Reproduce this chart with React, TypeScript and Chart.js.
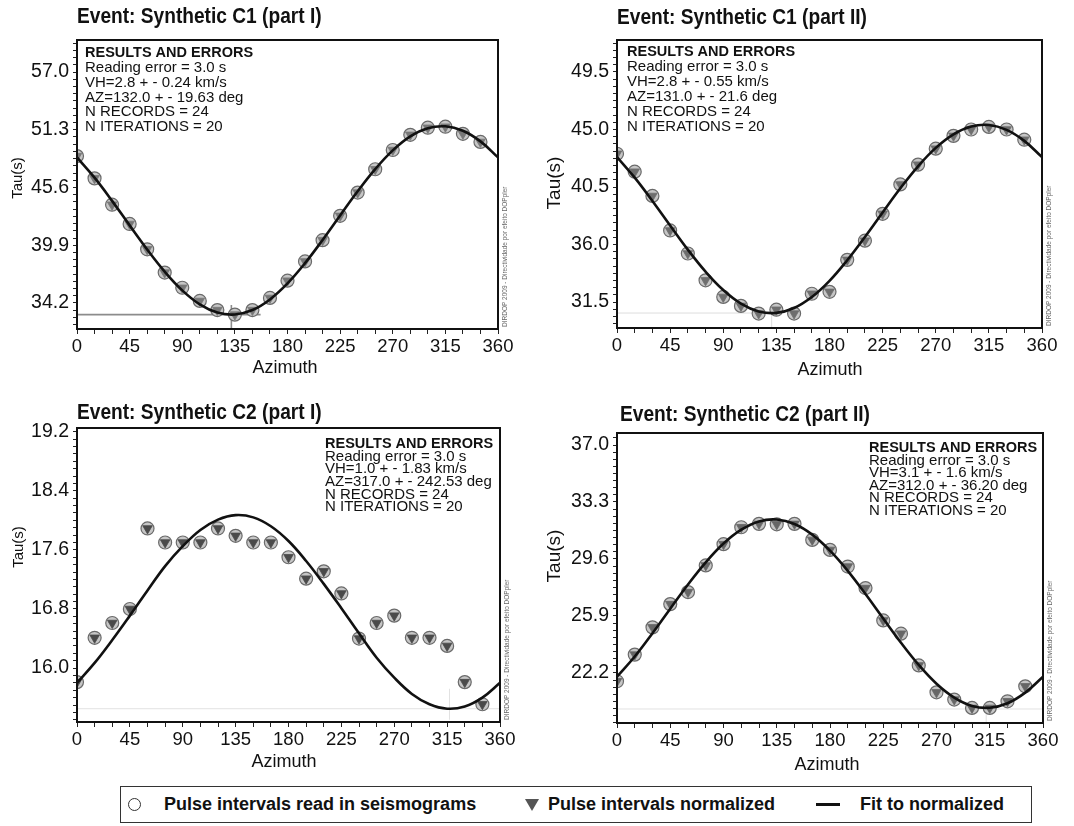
import React, { useEffect, useRef } from "react";
import { Chart, registerables } from "chart.js";

Chart.register(...registerables);

const FONT = "'Liberation Sans', Arial, Helvetica, sans-serif";

// ---------- shared axis data ----------
const AZIMUTHS = [0, 15, 30, 45, 60, 75, 90, 105, 120, 135, 150, 165, 180, 195, 210, 225, 240, 255, 270, 285, 300, 315, 330, 345];
const FIT_AZIMUTHS = [0, 15, 30, 45, 60, 75, 90, 105, 120, 135, 150, 165, 180, 195, 210, 225, 240, 255, 270, 285, 300, 315, 330, 345, 360];
const X_TICK_LABELS = [0, 45, 90, 135, 180, 225, 270, 315, 360];

// ---------- Synthetic C1 (part I) ----------
const C1A_READ = [48.7, 46.5, 43.9, 42.0, 39.5, 37.2, 35.7, 34.4, 33.5, 33.05, 33.5, 34.7, 36.4, 38.3, 40.4, 42.8, 45.1, 47.4, 49.3, 50.8, 51.5, 51.6, 50.9, 50.1];
const C1A_NORM = [48.7, 46.5, 43.9, 42.0, 39.5, 37.2, 35.7, 34.4, 33.5, 33.05, 33.5, 34.7, 36.4, 38.3, 40.4, 42.8, 45.1, 47.4, 49.3, 50.8, 51.5, 51.6, 50.9, 50.1];
const C1A_FIT = [48.57, 46.57, 44.28, 41.86, 39.48, 37.29, 35.44, 34.06, 33.25, 33.06, 33.5, 34.55, 36.13, 38.13, 40.42, 42.84, 45.22, 47.41, 49.26, 50.64, 51.45, 51.64, 51.2, 50.15, 48.57];
const C1A_Y_TICKS = [34.2, 39.9, 45.6, 51.3, 57.0];
const C1A_GUIDE_X = [0, 157];
const C1A_GUIDE_Y = [33.05, 33.05];
const C1A_MARK_X = [132, 132];
const C1A_MARK_Y = [31.6, 34.0];
const C1A_INFO = ["RESULTS AND ERRORS", "Reading error = 3.0 s", "VH=2.8 + - 0.24 km/s", "AZ=132.0 + - 19.63 deg", "N RECORDS = 24", "N ITERATIONS = 20"];

// ---------- Synthetic C1 (part II) ----------
const C1B_READ = [43.1, 41.7, 39.8, 37.1, 35.3, 33.2, 31.9, 31.2, 30.6, 30.9, 30.6, 32.15, 32.3, 34.8, 36.3, 38.4, 40.7, 42.25, 43.5, 44.5, 45.0, 45.2, 45.0, 44.2];
const C1B_NORM = [43.1, 41.7, 39.8, 37.1, 35.3, 33.2, 31.9, 31.2, 30.6, 30.9, 30.6, 32.15, 32.3, 34.8, 36.3, 38.4, 40.7, 42.25, 43.5, 44.5, 45.0, 45.2, 45.0, 44.2];
const C1B_FIT = [42.84, 41.23, 39.41, 37.49, 35.6, 33.88, 32.44, 31.38, 30.77, 30.65, 31.03, 31.89, 33.16, 34.77, 36.59, 38.51, 40.4, 42.12, 43.56, 44.62, 45.23, 45.35, 44.97, 44.11, 42.84];
const C1B_Y_TICKS = [31.5, 36.0, 40.5, 45.0, 49.5];
const C1B_GUIDE_X = [0, 131];
const C1B_GUIDE_Y = [30.64, 30.64];
const C1B_MARK_X = [131, 131];
const C1B_MARK_Y = [29.4, 30.64];
const C1B_INFO = ["RESULTS AND ERRORS", "Reading error = 3.0 s", "VH=2.8 + - 0.55 km/s", "AZ=131.0 + - 21.6 deg", "N RECORDS = 24", "N ITERATIONS = 20"];

// ---------- Synthetic C2 (part I) ----------
const C2A_READ = [15.81, 16.41, 16.61, 16.8, 17.89, 17.7, 17.7, 17.7, 17.89, 17.79, 17.7, 17.7, 17.5, 17.21, 17.31, 17.01, 16.4, 16.61, 16.71, 16.41, 16.41, 16.3, 15.81, 15.51];
const C2A_NORM = [15.81, 16.41, 16.61, 16.8, 17.89, 17.7, 17.7, 17.7, 17.89, 17.79, 17.7, 17.7, 17.5, 17.21, 17.31, 17.01, 16.4, 16.61, 16.71, 16.41, 16.41, 16.3, 15.81, 15.51];
const C2A_FIT = [15.8, 16.07, 16.38, 16.71, 17.05, 17.38, 17.65, 17.87, 18.01, 18.07, 18.04, 17.92, 17.72, 17.45, 17.14, 16.81, 16.47, 16.14, 15.87, 15.65, 15.51, 15.45, 15.48, 15.6, 15.8];
const C2A_Y_TICKS = [16.0, 16.8, 17.6, 18.4, 19.2];
const C2A_GUIDE_X = [0, 360];
const C2A_GUIDE_Y = [15.45, 15.45];
const C2A_MARK_X = [317, 317];
const C2A_MARK_Y = [15.3, 15.72];
const C2A_INFO = ["RESULTS AND ERRORS", "Reading error = 3.0 s", "VH=1.0 + - 1.83 km/s", "AZ=317.0 + - 242.53 deg", "N RECORDS = 24", "N ITERATIONS = 20"];

// ---------- Synthetic C2 (part II) ----------
const C2B_READ = [21.66, 23.39, 25.16, 26.67, 27.45, 29.18, 30.56, 31.66, 31.88, 31.85, 31.88, 30.84, 30.19, 29.11, 27.71, 25.61, 24.75, 22.69, 20.94, 20.47, 19.93, 19.93, 20.36, 21.33];
const C2B_NORM = [21.66, 23.39, 25.16, 26.67, 27.45, 29.18, 30.56, 31.66, 31.88, 31.85, 31.88, 30.84, 30.19, 29.11, 27.71, 25.61, 24.75, 22.69, 20.94, 20.47, 19.93, 19.93, 20.36, 21.33];
const C2B_FIT = [21.96, 23.27, 24.78, 26.37, 27.94, 29.38, 30.6, 31.5, 32.04, 32.16, 31.87, 31.18, 30.14, 28.83, 27.32, 25.73, 24.16, 22.72, 21.5, 20.6, 20.06, 19.94, 20.23, 20.92, 21.96];
const C2B_Y_TICKS = [22.2, 25.9, 29.6, 33.3, 37.0];
const C2B_GUIDE_X = [0, 360];
const C2B_GUIDE_Y = [19.86, 19.86];
const C2B_MARK_X = [312, 312];
const C2B_MARK_Y = [18.9, 19.86];
const C2B_INFO = ["RESULTS AND ERRORS", "Reading error = 3.0 s", "VH=3.1 + - 1.6 km/s", "AZ=312.0 + - 36.20 deg", "N RECORDS = 24", "N ITERATIONS = 20"];

const CREDIT = "DIRDOP 2009 - Directividade por efeito DOPpler";

type Panel = {
  title: string;
  box: { left: number; top: number; width: number; height: number };
  area: { l: number; t: number; r: number; b: number };
  yMin: number;
  yMax: number;
  yTicks: number[];
  read: number[];
  norm: number[];
  fit: number[];
  guideX: number[];
  guideY: number[];
  markX: number[];
  markY: number[];
  guideColor: string;
  guideWidth: number;
  triColor: string;
  info: string[];
  infoX: number;
  infoY: number;
  infoDy: number;
  titleX: number;
  titleY: number;
  tau: { x: number; y: number; size: number };
  azimuth: { x: number; y: number };
};

const PANELS: Panel[] = [
  {
    title: "Event: Synthetic C1 (part I)",
    box: { left: 0, top: 0, width: 537, height: 392 },
    area: { l: 77, t: 40, r: 498, b: 329 },
    yMin: 31.63, yMax: 60.16, yTicks: C1A_Y_TICKS,
    read: C1A_READ, norm: C1A_NORM, fit: C1A_FIT,
    guideX: C1A_GUIDE_X, guideY: C1A_GUIDE_Y, markX: C1A_MARK_X, markY: C1A_MARK_Y,
    guideColor: "#8c8c8c", guideWidth: 1.6, triColor: "#777777",
    info: C1A_INFO, infoX: 85, infoY: 53, infoDy: 14.8,
    titleX: 77, titleY: 17,
    tau: { x: 18, y: 178, size: 15 },
    azimuth: { x: 285, y: 368 },
  },
  {
    title: "Event: Synthetic C1 (part II)",
    box: { left: 537, top: 0, width: 537, height: 392 },
    area: { l: 617, t: 40, r: 1042, b: 328 },
    yMin: 29.47, yMax: 52.0, yTicks: C1B_Y_TICKS,
    read: C1B_READ, norm: C1B_NORM, fit: C1B_FIT,
    guideX: C1B_GUIDE_X, guideY: C1B_GUIDE_Y, markX: C1B_MARK_X, markY: C1B_MARK_Y,
    guideColor: "#dddddd", guideWidth: 1, triColor: "#6e6e6e",
    info: C1B_INFO, infoX: 627, infoY: 52, infoDy: 15,
    titleX: 617, titleY: 18,
    tau: { x: 555, y: 183, size: 19 },
    azimuth: { x: 830, y: 370 },
  },
  {
    title: "Event: Synthetic C2 (part I)",
    box: { left: 0, top: 392, width: 537, height: 390 },
    area: { l: 77, t: 428, r: 500, b: 722 },
    yMin: 15.27, yMax: 19.25, yTicks: C2A_Y_TICKS,
    read: C2A_READ, norm: C2A_NORM, fit: C2A_FIT,
    guideX: C2A_GUIDE_X, guideY: C2A_GUIDE_Y, markX: C2A_MARK_X, markY: C2A_MARK_Y,
    guideColor: "#e2e2e2", guideWidth: 1, triColor: "#4a4a4a",
    info: C2A_INFO, infoX: 325, infoY: 444, infoDy: 12.6,
    titleX: 77, titleY: 413,
    tau: { x: 19, y: 547, size: 15 },
    azimuth: { x: 284, y: 762 },
  },
  {
    title: "Event: Synthetic C2 (part II)",
    box: { left: 537, top: 392, width: 537, height: 390 },
    area: { l: 617, t: 433, r: 1043, b: 723 },
    yMin: 18.95, yMax: 37.78, yTicks: C2B_Y_TICKS,
    read: C2B_READ, norm: C2B_NORM, fit: C2B_FIT,
    guideX: C2B_GUIDE_X, guideY: C2B_GUIDE_Y, markX: C2B_MARK_X, markY: C2B_MARK_Y,
    guideColor: "#e2e2e2", guideWidth: 1, triColor: "#666666",
    info: C2B_INFO, infoX: 869, infoY: 448, infoDy: 12.5,
    titleX: 620, titleY: 415,
    tau: { x: 555, y: 556, size: 19 },
    azimuth: { x: 827, y: 765 },
  },
];

const toPoints = (xs: number[], ys: number[]) => xs.map((x, i) => ({ x, y: ys[i] }));

function buildYTicks(majors: number[], min: number, max: number, sub: number) {
  const step = (majors[1] - majors[0]) / sub;
  const out: number[] = [];
  const start = Math.ceil((min - majors[0]) / step - 1e-9);
  const end = Math.floor((max - majors[0]) / step + 1e-9);
  for (let k = start; k <= end; k++) out.push(majors[0] + k * step);
  return { ticks: out, step };
}

function PanelChart({ p }: { p: Panel }) {
  const ref = useRef<HTMLCanvasElement | null>(null);
  useEffect(() => {
    if (!ref.current) return;
    const { box, area } = p;
    const ox = box.left;
    const oy = box.top;
    const { ticks: yTickVals, step } = buildYTicks(p.yTicks, p.yMin, p.yMax, 8);

    const decor = {
      id: "decor" + p.title,
      afterDraw(chart: any) {
        const ctx = chart.ctx as CanvasRenderingContext2D;
        const ca = chart.chartArea;
        ctx.save();
        // plot frame
        ctx.strokeStyle = "#111";
        ctx.lineWidth = 2;
        ctx.strokeRect(ca.left, ca.top, ca.right - ca.left, ca.bottom - ca.top);
        // title
        ctx.fillStyle = "#111";
        ctx.save();
        ctx.translate(p.titleX - ox, p.titleY - oy);
        ctx.scale(0.87, 1);
        ctx.font = `bold 22px ${FONT}`;
        ctx.textAlign = "left";
        ctx.textBaseline = "middle";
        ctx.fillText(p.title, 0, 0);
        ctx.restore();
        // info block
        ctx.textAlign = "left";
        ctx.textBaseline = "middle";
        p.info.forEach((line, i) => {
          ctx.font = i === 0 ? `bold 14.5px ${FONT}` : `15px ${FONT}`;
          ctx.fillText(line, p.infoX - ox, p.infoY - oy + i * p.infoDy);
        });
        // y title
        ctx.save();
        ctx.translate(p.tau.x - ox, p.tau.y - oy);
        ctx.rotate(-Math.PI / 2);
        ctx.font = `${p.tau.size}px ${FONT}`;
        ctx.textAlign = "center";
        ctx.textBaseline = "middle";
        ctx.fillText("Tau(s)", 0, 0);
        ctx.restore();
        // x title
        ctx.font = `18px ${FONT}`;
        ctx.textAlign = "center";
        ctx.textBaseline = "middle";
        ctx.fillText("Azimuth", p.azimuth.x - ox, p.azimuth.y - oy);
        // credit
        ctx.save();
        ctx.translate(ca.right + 7, ca.bottom - 2);
        ctx.rotate(-Math.PI / 2);
        ctx.font = `6.5px ${FONT}`;
        ctx.fillStyle = "#666";
        ctx.textAlign = "left";
        ctx.textBaseline = "middle";
        ctx.fillText(CREDIT, 0, 0);
        ctx.restore();
        ctx.restore();
      },
    };

    const chart = new Chart(ref.current, {
      type: "line",
      data: {
        datasets: [
          {
            label: "Fit to normalized",
            data: toPoints(FIT_AZIMUTHS, p.fit),
            borderColor: "#111",
            borderWidth: 2.6,
            pointRadius: 0,
            tension: 0.4,
            fill: false,
            order: 0,
          },
          {
            label: "Pulse intervals normalized",
            data: toPoints(AZIMUTHS, p.norm),
            showLine: false,
            pointStyle: "triangle",
            pointRotation: 180,
            pointRadius: 5.5,
            pointBackgroundColor: p.triColor,
            pointBorderColor: p.triColor,
            pointBorderWidth: 0.8,
            order: 1,
          },
          {
            label: "Pulse intervals read in seismograms",
            data: toPoints(AZIMUTHS, p.read),
            showLine: false,
            pointStyle: "circle",
            pointRadius: 6.5,
            pointBackgroundColor: "#c6c6c6",
            pointBorderColor: "#6a6a6a",
            pointBorderWidth: 1.2,
            order: 2,
          },
          {
            label: "min-guide",
            data: toPoints(p.guideX, p.guideY),
            borderColor: p.guideColor,
            borderWidth: p.guideWidth,
            pointRadius: 0,
            tension: 0,
            order: 3,
          },
          {
            label: "az-mark",
            data: toPoints(p.markX, p.markY),
            borderColor: p.guideColor,
            borderWidth: p.guideWidth,
            pointRadius: 0,
            tension: 0,
            order: 3,
          },
        ] as any,
      },
      options: {
        animation: false,
        responsive: false,
        maintainAspectRatio: false,
        devicePixelRatio: 1,
        events: [],
        layout: {
          padding: {
            left: 0,
            top: area.t - oy,
            right: ox + box.width - area.r,
            bottom: 0,
          },
        },
        plugins: {
          legend: { display: false },
          tooltip: { enabled: false },
          title: { display: false },
        },
        scales: {
          x: {
            type: "linear",
            min: 0,
            max: 360,
            afterFit: (s: any) => {
              s.height = oy + box.height - area.b;
              s.paddingLeft = 0;
              s.paddingRight = 0;
            },
            ticks: {
              stepSize: 15,
              autoSkip: false,
              maxRotation: 0,
              minRotation: 0,
              padding: 2,
              color: "#111",
              font: { family: FONT, size: 18.5 },
              callback: (v: any) => (X_TICK_LABELS.includes(Number(v)) ? String(v) : ""),
            },
            grid: { drawOnChartArea: false, drawTicks: true, tickLength: 5, tickColor: "#222", tickWidth: 1 },
            border: { display: false },
          },
          y: {
            type: "linear",
            min: p.yMin,
            max: p.yMax,
            afterFit: (s: any) => {
              s.width = area.l - ox;
              s.paddingTop = 0;
              s.paddingBottom = 0;
            },
            afterBuildTicks: (s: any) => {
              s.ticks = yTickVals.map((v) => ({ value: v }));
            },
            ticks: {
              autoSkip: false,
              padding: 4,
              color: "#111",
              font: { family: FONT, size: 19.5 },
              callback: (v: any) => {
                const m = p.yTicks.find((t) => Math.abs(t - Number(v)) < step / 10);
                return m === undefined ? "" : m.toFixed(1);
              },
            },
            grid: { drawOnChartArea: false, drawTicks: true, tickLength: 4, tickColor: "#222", tickWidth: 1 },
            border: { display: false },
          },
        },
      } as any,
      plugins: [decor],
    });
    return () => chart.destroy();
  }, [p]);

  return (
    <canvas
      ref={ref}
      width={p.box.width}
      height={p.box.height}
      style={{ position: "absolute", left: p.box.left, top: p.box.top, width: p.box.width, height: p.box.height }}
    />
  );
}

function Legend() {
  const text: React.CSSProperties = {
    position: "absolute",
    top: 0,
    height: "100%",
    display: "flex",
    alignItems: "center",
    whiteSpace: "nowrap",
  };
  return (
    <div
      style={{
        position: "absolute",
        left: 120,
        top: 786,
        width: 912,
        height: 37,
        boxSizing: "border-box",
        border: "1.5px solid #333",
        fontFamily: FONT,
        fontWeight: "bold",
        fontSize: 18,
        color: "#111",
      }}
    >
      <span
        style={{
          position: "absolute",
          left: 7,
          top: 11,
          width: 13,
          height: 13,
          boxSizing: "border-box",
          borderRadius: "50%",
          border: "1.3px solid #333",
        }}
      />
      <span style={{ ...text, left: 43 }}>Pulse intervals read in seismograms</span>
      <span
        style={{
          position: "absolute",
          left: 404,
          top: 12,
          width: 0,
          height: 0,
          borderLeft: "7px solid transparent",
          borderRight: "7px solid transparent",
          borderTop: "12px solid #555",
        }}
      />
      <span style={{ ...text, left: 427 }}>Pulse intervals normalized</span>
      <span style={{ position: "absolute", left: 695, top: 16, width: 24, height: 2.5, background: "#111" }} />
      <span style={{ ...text, left: 739 }}>Fit to normalized</span>
    </div>
  );
}

export default function App() {
  return (
    <div style={{ position: "absolute", left: 0, top: 0, width: 1074, height: 826, background: "#fff", overflow: "hidden" }}>
      {PANELS.map((p) => (
        <PanelChart key={p.title} p={p} />
      ))}
      <Legend />
    </div>
  );
}
